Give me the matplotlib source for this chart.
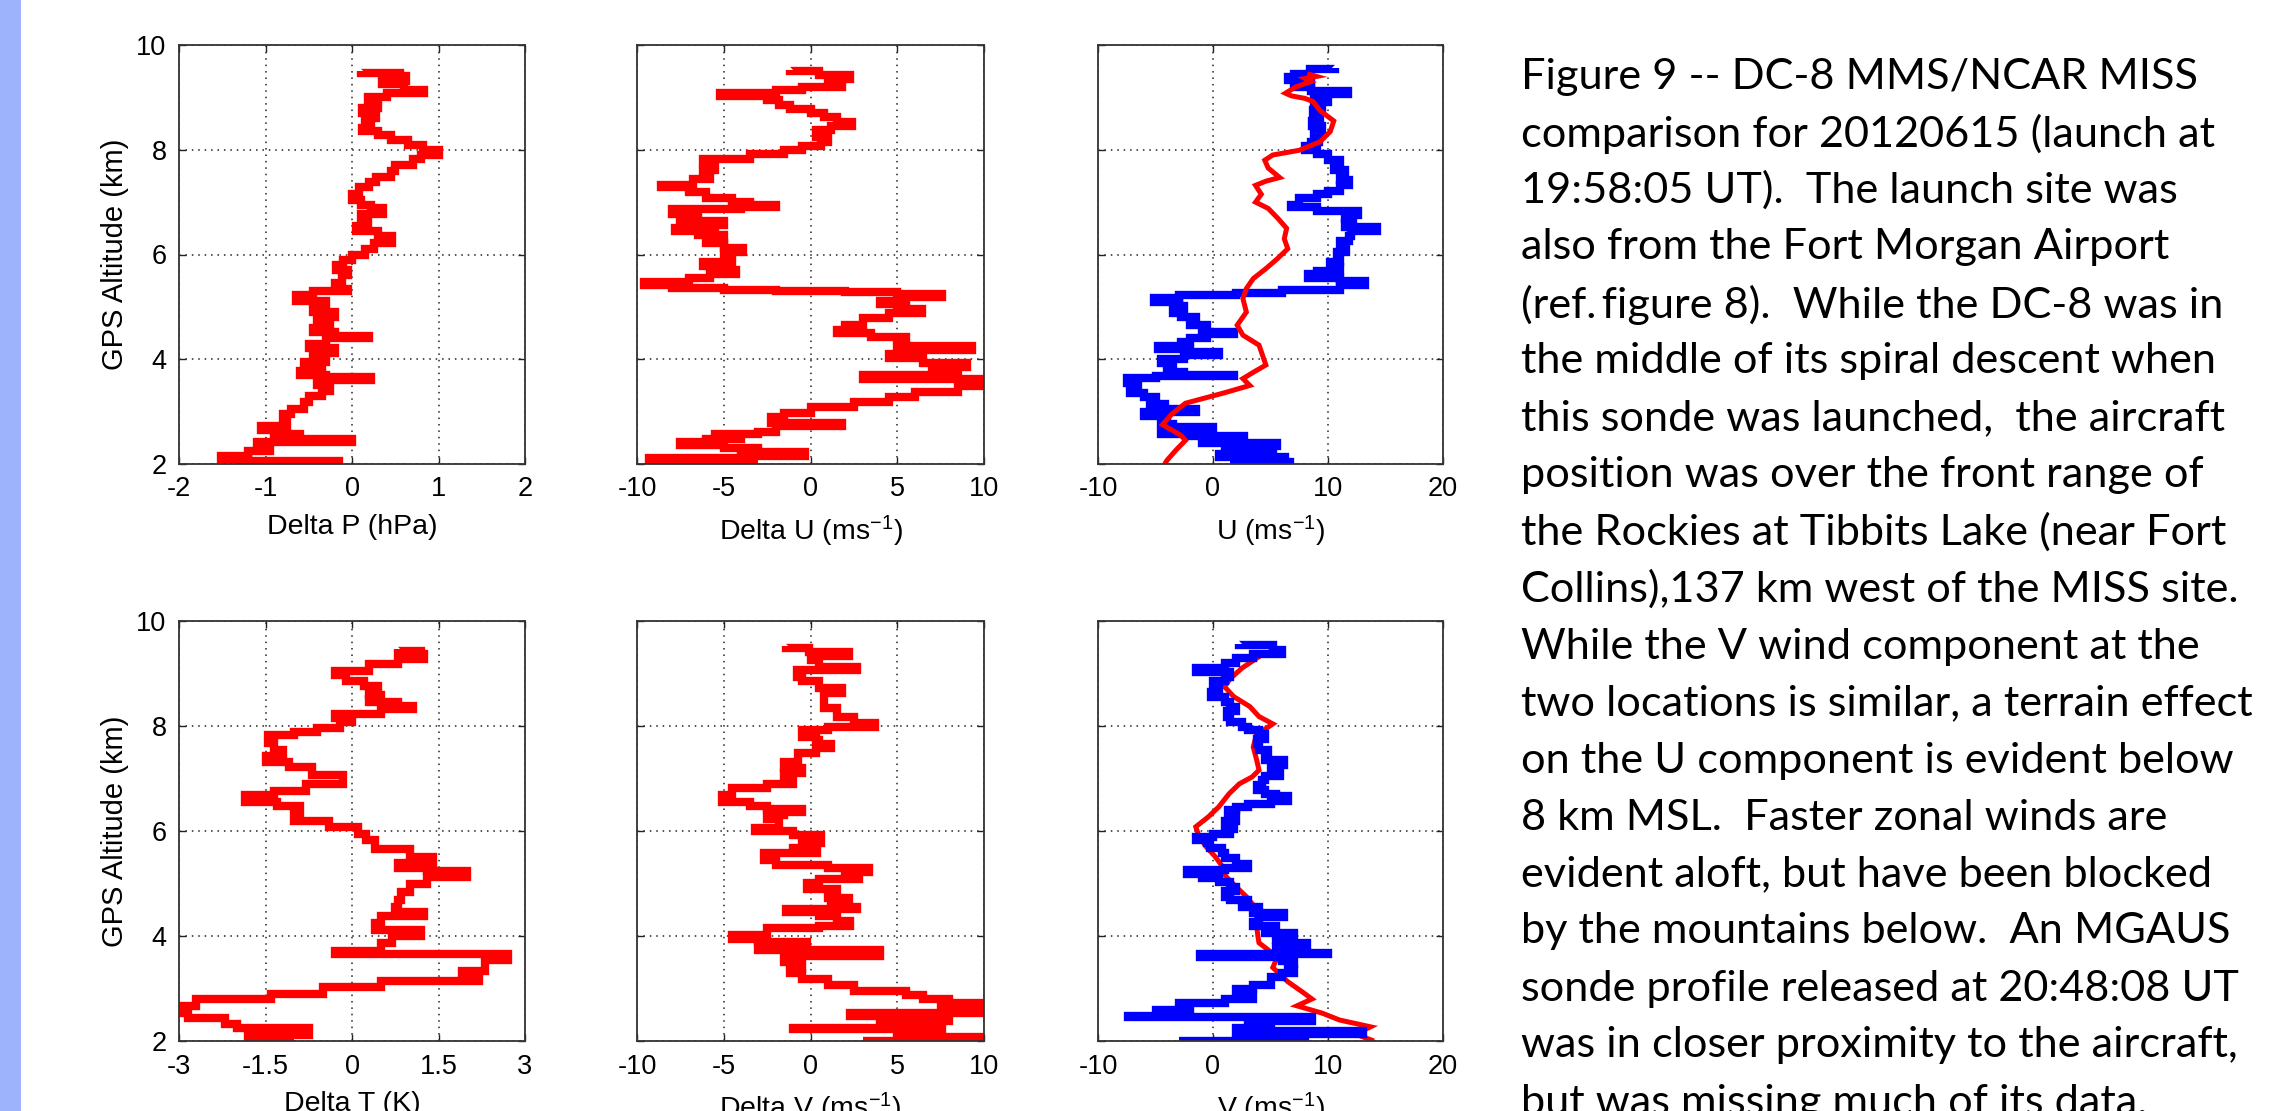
import matplotlib
matplotlib.use('Agg')
import matplotlib.pyplot as plt
from matplotlib.patches import Rectangle

plt.rcParams['axes.unicode_minus'] = False
plt.rcParams['font.family'] = ['Liberation Sans', 'DejaVu Sans']
plt.rcParams['mathtext.default'] = 'regular'

# ---------------- data: (altitude km, value) ----------------
delta_p = [(9.50, 0.10), (9.47, 0.55), (9.40, 0.62), (9.32, 0.35), (9.25, 0.60), (9.15, 0.83), (9.08, 0.40),
           (9.00, 0.18), (8.92, 0.30), (8.80, 0.12), (8.70, 0.28), (8.60, 0.15), (8.50, 0.22), (8.42, 0.12),
           (8.35, 0.30), (8.28, 0.45), (8.18, 0.65), (8.10, 0.82), (8.00, 1.00), (7.90, 0.80), (7.82, 0.70),
           (7.70, 0.50), (7.60, 0.45), (7.48, 0.28), (7.38, 0.20), (7.28, 0.08), (7.15, 0.00), (7.05, 0.10),
           (6.95, 0.22), (6.88, 0.36), (6.78, 0.10), (6.65, 0.18), (6.55, 0.05), (6.45, 0.30), (6.35, 0.46),
           (6.22, 0.25), (6.10, 0.15), (6.00, 0.00), (5.90, -0.10), (5.80, -0.18), (5.70, -0.05), (5.60, -0.12),
           (5.45, -0.20), (5.35, -0.05), (5.30, -0.45), (5.22, -0.65), (5.12, -0.30), (5.00, -0.45),
           (4.90, -0.20), (4.80, -0.40), (4.70, -0.25), (4.60, -0.45), (4.52, -0.20), (4.45, 0.20),
           (4.40, -0.30), (4.30, -0.50), (4.22, -0.20), (4.12, -0.45), (4.05, -0.30), (3.95, -0.55),
           (3.85, -0.35), (3.78, -0.60), (3.70, -0.30), (3.66, 0.22), (3.60, -0.40), (3.50, -0.25),
           (3.40, -0.35), (3.30, -0.50), (3.18, -0.55), (3.05, -0.70), (2.95, -0.80), (2.85, -0.75),
           (2.72, -1.05), (2.65, -0.85), (2.58, -0.60), (2.52, -0.90), (2.47, 0.00), (2.42, -1.10),
           (2.35, -0.95), (2.25, -1.20), (2.15, -1.52), (2.10, -1.20), (2.06, -0.15), (2.02, -1.30),
           (2.00, -1.00)]

delta_u = [(9.52, -1.2), (9.50, 0.5), (9.42, 2.3), (9.35, 1.0), (9.28, 1.8), (9.20, -0.5), (9.15, -2.0),
           (9.08, -5.2), (9.02, -2.5), (8.95, -1.8), (8.85, -1.2), (8.78, 0.0), (8.70, 0.8), (8.62, 1.5),
           (8.53, 2.4), (8.45, 1.2), (8.38, 0.3), (8.25, 1.0), (8.15, 0.6), (8.08, -0.5), (8.00, -1.5),
           (7.92, -3.5), (7.82, -6.2), (7.75, -5.5), (7.62, -6.2), (7.52, -5.8), (7.45, -6.8), (7.33, -8.6),
           (7.28, -7.0), (7.20, -6.0), (7.08, -4.5), (7.00, -3.5), (6.95, -2.0), (6.90, -4.0), (6.86, -8.0),
           (6.78, -6.5), (6.72, -7.5), (6.64, -5.0), (6.57, -5.5), (6.50, -7.8), (6.44, -6.5), (6.38, -5.0),
           (6.30, -6.0), (6.22, -5.0), (6.12, -3.9), (6.05, -5.0), (5.95, -4.5), (5.85, -6.2), (5.78, -5.5),
           (5.70, -4.3), (5.62, -5.8), (5.55, -7.0), (5.48, -9.6), (5.42, -8.0), (5.36, -5.0), (5.33, -2.0),
           (5.30, 2.0), (5.28, 5.0), (5.25, 7.6), (5.18, 5.5), (5.12, 4.0), (5.05, 5.0), (4.95, 6.4),
           (4.88, 4.5), (4.78, 3.0), (4.65, 2.0), (4.55, 1.5), (4.50, 3.5), (4.42, 5.5), (4.32, 5.0),
           (4.25, 9.3), (4.18, 6.0), (4.10, 4.5), (4.02, 6.5), (3.92, 9.0), (3.85, 7.0), (3.78, 8.5),
           (3.70, 3.0), (3.62, 9.8), (3.55, 10.0), (3.48, 8.5), (3.38, 6.0), (3.28, 4.5), (3.18, 2.5),
           (3.08, 0.0), (2.98, -1.5), (2.90, -2.3), (2.78, 1.8), (2.72, -2.0), (2.62, -3.0), (2.58, -5.5),
           (2.52, -4.0), (2.48, -6.0), (2.42, -7.5), (2.36, -5.0), (2.30, -3.0), (2.22, -0.3), (2.16, -4.0),
           (2.12, -9.3), (2.06, -7.0), (2.02, -5.0), (2.00, -3.0)]

u_miss = [(9.57, 10.6), (9.55, 8.4), (9.45, 7.0), (9.38, 6.5), (9.33, 8.5), (9.27, 7.0), (9.20, 8.5),
          (9.12, 11.7), (9.07, 8.8), (9.00, 10.0), (8.92, 8.8), (8.85, 9.5), (8.75, 8.7), (8.65, 9.3),
          (8.55, 8.6), (8.45, 9.5), (8.35, 8.8), (8.25, 9.2), (8.15, 8.5), (8.07, 8.0), (8.00, 9.0),
          (7.92, 10.0), (7.80, 11.0), (7.72, 10.5), (7.62, 11.5), (7.52, 11.0), (7.42, 11.8), (7.32, 11.0),
          (7.22, 10.0), (7.15, 9.0), (7.08, 7.5), (6.95, 6.8), (6.90, 9.0), (6.83, 12.6), (6.76, 11.5),
          (6.68, 12.2), (6.60, 11.5), (6.52, 14.3), (6.45, 12.0), (6.35, 11.8), (6.25, 11.0), (6.15, 11.6),
          (6.05, 10.8), (5.95, 11.0), (5.85, 10.2), (5.76, 11.0), (5.68, 9.0), (5.62, 8.3), (5.56, 11.0),
          (5.49, 13.2), (5.42, 11.0), (5.33, 6.0), (5.27, 2.0), (5.22, -3.0), (5.17, -5.1), (5.10, -3.0),
          (5.02, -2.5), (4.95, -3.5), (4.88, -2.8), (4.80, -1.5), (4.72, -2.0), (4.65, -0.5), (4.58, -1.0),
          (4.52, 1.8), (4.48, -0.5), (4.40, -2.0), (4.32, -2.8), (4.25, -4.8), (4.19, -2.0), (4.14, 0.5),
          (4.08, -2.5), (4.00, -4.5), (3.92, -3.5), (3.84, -4.0), (3.76, -2.5), (3.70, 1.8), (3.68, -5.0),
          (3.64, -7.5), (3.55, -6.5), (3.45, -7.2), (3.35, -6.0), (3.27, -5.0), (3.20, -5.5), (3.15, -4.2),
          (3.05, -1.5), (3.00, -6.0), (2.92, -4.0), (2.85, -4.5), (2.76, -3.5), (2.70, 0.0), (2.62, -4.5),
          (2.58, -2.0), (2.54, 2.7), (2.48, -1.0), (2.41, 5.6), (2.35, 1.0), (2.27, 5.2), (2.20, 0.5),
          (2.13, 6.3), (2.08, 2.0), (2.03, 6.7), (2.00, 1.5)]

u_dc8 = [(9.45, 8.2), (9.40, 9.0), (9.36, 8.0), (9.30, 8.5), (9.20, 7.2), (9.08, 6.3), (9.03, 6.8),
         (8.98, 8.0), (8.92, 8.7), (8.75, 9.3), (8.55, 10.5), (8.35, 10.2), (8.15, 9.3), (7.99, 7.5),
         (7.90, 5.2), (7.80, 4.5), (7.65, 4.8), (7.47, 5.8), (7.40, 4.6), (7.32, 3.7), (7.15, 4.2),
         (7.00, 3.7), (6.88, 4.8), (6.70, 5.6), (6.50, 6.4), (6.30, 6.2), (6.11, 6.5), (5.92, 5.6),
         (5.73, 4.6), (5.54, 3.5), (5.35, 2.9), (5.16, 2.6), (4.90, 2.9), (4.65, 2.1), (4.46, 2.6),
         (4.27, 4.0), (4.08, 4.3), (3.89, 4.6), (3.75, 3.5), (3.63, 2.6), (3.50, 3.2), (3.36, 1.0),
         (3.16, -2.4), (2.95, -3.6), (2.75, -4.4), (2.55, -2.8), (2.45, -2.4), (2.27, -3.2), (2.07, -4.0),
         (2.00, -4.2)]

delta_t = [(9.47, 0.80), (9.42, 1.20), (9.37, 1.24), (9.28, 0.80), (9.18, 0.30), (9.05, -0.29), (8.98, -0.10),
           (8.86, 0.20), (8.76, 0.45), (8.68, 0.30), (8.60, 0.50), (8.52, 0.30), (8.45, 0.80), (8.39, 1.05),
           (8.32, 0.50), (8.23, -0.30), (8.15, 0.00), (8.08, -0.20), (7.97, -0.60), (7.88, -1.00),
           (7.82, -1.45), (7.68, -1.35), (7.55, -1.20), (7.42, -1.50), (7.32, -1.10), (7.22, -0.70),
           (7.06, -0.15), (6.90, -0.80), (6.77, -1.35), (6.68, -1.85), (6.55, -1.30), (6.47, -0.90),
           (6.35, -1.00), (6.20, -0.40), (6.08, 0.10), (5.95, 0.25), (5.82, 0.40), (5.66, 1.00), (5.50, 1.40),
           (5.40, 0.80), (5.30, 1.30), (5.24, 2.00), (5.13, 1.30), (5.00, 1.00), (4.84, 0.85), (4.68, 0.80),
           (4.55, 0.75), (4.45, 1.25), (4.38, 0.50), (4.24, 0.40), (4.12, 1.20), (4.00, 0.70), (3.87, 0.50),
           (3.72, -0.30), (3.65, 2.70), (3.54, 2.30), (3.34, 1.90), (3.22, 2.20), (3.14, 0.50), (3.03, -0.50),
           (2.90, -1.40), (2.80, -2.70), (2.67, -3.00), (2.53, -2.85), (2.43, -2.20), (2.33, -2.00),
           (2.24, -0.75), (2.12, -1.80), (2.03, -1.30), (2.00, -1.00)]

delta_v = [(9.52, -1.4), (9.48, -0.1), (9.41, 2.2), (9.33, 0.0), (9.25, 0.5), (9.12, 2.7), (9.06, -0.8),
           (8.94, -0.5), (8.85, 0.5), (8.72, 1.8), (8.62, 0.8), (8.50, 0.8), (8.34, 1.5), (8.18, 2.5),
           (8.05, 3.7), (7.98, 1.0), (7.92, -0.5), (7.80, 0.3), (7.73, 0.5), (7.65, 1.2), (7.58, 0.3),
           (7.48, -0.7), (7.32, -1.5), (7.20, -0.5), (7.10, -1.5), (7.00, -1.0), (6.90, -2.5), (6.82, -4.5),
           (6.69, -5.1), (6.56, -3.5), (6.48, -2.5), (6.42, -0.5), (6.36, -1.5), (6.31, -2.5), (6.22, -1.8),
           (6.06, -3.2), (6.00, -1.0), (5.93, 0.6), (5.77, -0.5), (5.68, -1.0), (5.63, 0.4), (5.58, -2.7),
           (5.45, -2.0), (5.36, 1.0), (5.30, 3.4), (5.22, 2.0), (5.17, 2.8), (5.08, 0.5), (5.01, -0.2),
           (4.90, 1.5), (4.82, 1.0), (4.72, 2.2), (4.62, 1.2), (4.55, 2.7), (4.52, -1.4), (4.45, 0.5),
           (4.38, 1.5), (4.28, 2.3), (4.20, 0.5), (4.16, -2.5), (4.02, -4.5), (3.95, -3.0), (3.88, -0.2),
           (3.80, -3.0), (3.73, 4.0), (3.62, -1.5), (3.50, -0.5), (3.40, -1.2), (3.30, -0.5), (3.18, 1.0),
           (3.07, 2.5), (2.95, 5.5), (2.88, 6.5), (2.80, 8.0), (2.73, 10.0), (2.68, 7.5), (2.60, 10.0),
           (2.53, 2.3), (2.48, 8.0), (2.38, 6.0), (2.33, 4.0), (2.25, -1.0), (2.22, 7.6), (2.15, 5.0),
           (2.08, 10.0), (2.03, 6.0), (2.00, 3.0)]

v_miss = [(9.57, 2.3), (9.55, 5.2), (9.44, 6.0), (9.38, 3.5), (9.29, 2.0), (9.20, 1.0), (9.10, -1.5),
          (9.02, 1.5), (8.94, 1.0), (8.85, 0.0), (8.75, 0.5), (8.65, -0.2), (8.56, 1.0), (8.45, 1.5),
          (8.37, 2.0), (8.28, 1.2), (8.18, 1.5), (8.08, 2.5), (7.99, 3.0), (7.92, 4.0), (7.85, 4.5),
          (7.75, 3.8), (7.66, 4.0), (7.55, 4.8), (7.47, 4.5), (7.35, 6.2), (7.25, 5.0), (7.16, 5.8),
          (7.05, 4.5), (6.97, 4.3), (6.88, 3.8), (6.78, 4.5), (6.70, 5.5), (6.66, 6.5), (6.58, 5.0),
          (6.52, 3.0), (6.45, 2.0), (6.40, 1.3), (6.30, 2.0), (6.20, 1.0), (6.10, 1.8), (6.04, 1.5),
          (5.95, 0.0), (5.89, -1.5), (5.82, -0.5), (5.77, -0.3), (5.68, 0.8), (5.58, 1.0), (5.48, 2.0),
          (5.38, 3.0), (5.30, 1.0), (5.25, -2.3), (5.18, -1.0), (5.10, 0.5), (5.02, 1.5), (4.94, 2.0),
          (4.85, 1.0), (4.75, 1.5), (4.68, 3.0), (4.62, 2.5), (4.55, 4.0), (4.48, 3.5), (4.44, 6.2),
          (4.36, 4.0), (4.27, 3.5), (4.20, 5.5), (4.13, 4.5), (4.06, 7.0), (4.00, 5.5), (3.92, 6.5),
          (3.87, 8.2), (3.80, 5.5), (3.72, 6.5), (3.67, 10.0), (3.65, -1.1), (3.60, 6.0), (3.52, 7.0),
          (3.47, 6.5), (3.38, 7.0), (3.30, 6.0), (3.22, 5.0), (3.13, 5.0), (3.06, 3.5), (3.00, 2.0),
          (2.92, 3.0), (2.87, 3.5), (2.80, 1.0), (2.73, -3.0), (2.66, -2.0), (2.60, -5.0), (2.52, -4.0),
          (2.47, -7.4), (2.45, 8.6), (2.38, 3.0), (2.33, 5.0), (2.25, 2.0), (2.20, 13.0), (2.13, 4.0),
          (2.07, 8.0), (2.03, 2.0), (2.00, -3.0)]

v_dc8 = [(9.40, 4.5), (9.32, 4.0), (9.10, 2.5), (8.90, 1.5), (8.75, 1.0), (8.56, 1.8), (8.37, 3.2),
         (8.18, 4.0), (8.04, 5.2), (7.95, 4.6), (7.85, 3.8), (7.60, 3.5), (7.35, 3.8), (7.16, 4.0),
         (7.03, 3.4), (6.90, 2.3), (6.71, 1.4), (6.46, 0.5), (6.27, -0.4), (6.08, -1.5), (5.89, -1.2),
         (5.70, -0.6), (5.51, 0.2), (5.33, 0.8), (5.14, 1.1), (4.94, 2.0), (4.75, 2.9), (4.59, 3.5),
         (4.44, 3.8), (4.19, 3.8), (4.00, 3.9), (3.87, 4.0), (3.60, 5.6), (3.40, 5.2), (3.13, 6.5),
         (2.93, 7.8), (2.80, 8.6), (2.67, 7.3), (2.53, 9.5), (2.40, 11.0), (2.27, 13.7), (2.13, 12.4),
         (2.00, 14.0)]

ylims = (2, 10)
yticks = [2, 4, 6, 8, 10]
xticks_p = [-2, -1, 0, 1, 2]
xticks_t = [-3, -1.5, 0, 1.5, 3]
xticklabels_t = ['-3', '-1.5', '0', '1.5', '3']
xticks_d = [-10, -5, 0, 5, 10]
xticks_w = [-10, 0, 10, 20]

caption_lines = [
    "Figure 9 -- DC-8 MMS/NCAR MISS",
    "comparison for 20120615 (launch at",
    "19:58:05 UT).  The launch site was",
    "also from the Fort Morgan Airport",
    "(ref.\u2009figure 8).  While the DC-8 was in",
    "the middle of its spiral descent when",
    "this sonde was launched,  the aircraft",
    "position was over the front range of",
    "the Rockies at Tibbits Lake (near Fort",
    "Collins),137 km west of the MISS site.",
    "While the V wind component at the",
    "two locations is similar, a terrain effect",
    "on the U component is evident below",
    "8 km MSL.  Faster zonal winds are",
    "evident aloft, but have been blocked",
    "by the mountains below.  An MGAUS",
    "sonde profile released at 20:48:08 UT",
    "was in closer proximity to the aircraft,",
    "but was missing much of its data.",
]

# ---------------- figure ----------------
W, H = 2277, 1111
fig = plt.figure(figsize=(W / 100, H / 100), dpi=100)
fig.patch.set_facecolor('white')
fig.patches.append(Rectangle((0, 0), 21 / W, 1, transform=fig.transFigure,
                             facecolor='#9db3fc', edgecolor='none', zorder=0))


def rect(l, t, r, b):
    return [l / W, 1 - b / H, (r - l) / W, (b - t) / H]


cols = [(179, 525), (637, 984), (1098, 1443)]
rows = [(45, 464), (621, 1041)]

RED = '#ff0000'
BLUE = '#0000ff'


def split(series):
    alt = [a for a, v in series]
    val = [v for a, v in series]
    return val, alt


def style(ax, xlim, xticks, xlabels, xlabel, left):
    ax.set_xlim(*xlim)
    ax.set_ylim(*ylims)
    ax.set_xticks(xticks)
    ax.set_xticklabels(xlabels)
    ax.set_yticks(yticks)
    if left:
        ax.set_yticklabels([str(t) for t in yticks])
        ax.set_ylabel('GPS Altitude (km)', fontsize=21, labelpad=5)
    else:
        ax.set_yticklabels([])
    ax.set_axisbelow(True)
    ax.grid(True, linestyle=(0, (1, 3.2)), color='#222222', linewidth=1.1)
    ax.tick_params(direction='in', length=5, width=1, top=True, right=True,
                   labelsize=19.5, pad=9, colors='#222222', labelcolor='black')
    for s in ax.spines.values():
        s.set_color('#333333')
        s.set_linewidth(1.3)
    ax.set_xlabel(xlabel, fontsize=20.5, labelpad=8)


# (series, colour, width, stepped)
panels = [
    (0, 0, [(delta_p, RED, 6.0, True)], (-2, 2), xticks_p, [str(t) for t in xticks_p], 'Delta P (hPa)'),
    (0, 1, [(delta_u, RED, 6.0, True)], (-10, 10), xticks_d, [str(t) for t in xticks_d], 'Delta U (ms$^{-1}$)'),
    (0, 2, [(u_miss, BLUE, 6.0, True), (u_dc8, RED, 3.6, False)], (-10, 20), xticks_w,
     [str(t) for t in xticks_w], 'U (ms$^{-1}$)'),
    (1, 0, [(delta_t, RED, 6.0, True)], (-3, 3), xticks_t, xticklabels_t, 'Delta T (K)'),
    (1, 1, [(delta_v, RED, 6.0, True)], (-10, 10), xticks_d, [str(t) for t in xticks_d], 'Delta V (ms$^{-1}$)'),
    (1, 2, [(v_dc8, RED, 3.6, False), (v_miss, BLUE, 6.0, True)], (-10, 20), xticks_w,
     [str(t) for t in xticks_w], 'V (ms$^{-1}$)'),
]

for r, c, lines, xlim, xt, xtl, xl in panels:
    (l, rr), (t, b) = cols[c], rows[r]
    ax = fig.add_axes(rect(l, t, rr, b))
    for series, color, lw, stepped in lines:
        x, y = split(series)
        ax.plot(x, y, color=color, linewidth=lw, drawstyle='steps-pre' if stepped else 'default',
                solid_joinstyle='miter', solid_capstyle='butt')
    style(ax, xlim, xt, xtl, xl, c == 0)

# ---------------- caption ----------------
cap_font = ['Lato', 'DejaVu Sans']
renderer = fig.canvas.get_renderer()
probe = fig.text(0, 0, caption_lines[0], fontsize=30, family=cap_font)
wid = probe.get_window_extent(renderer).width
probe.remove()
cap_size = 30 * 675.0 / wid

x0 = 1521 / W
for i, line in enumerate(caption_lines):
    yc = 73 + i * 57.0
    fig.text(x0, 1 - yc / H, line, fontsize=cap_size, family=cap_font,
             ha='left', va='center_baseline', color='black')

fig.savefig('out.png', dpi=100, facecolor='white')
